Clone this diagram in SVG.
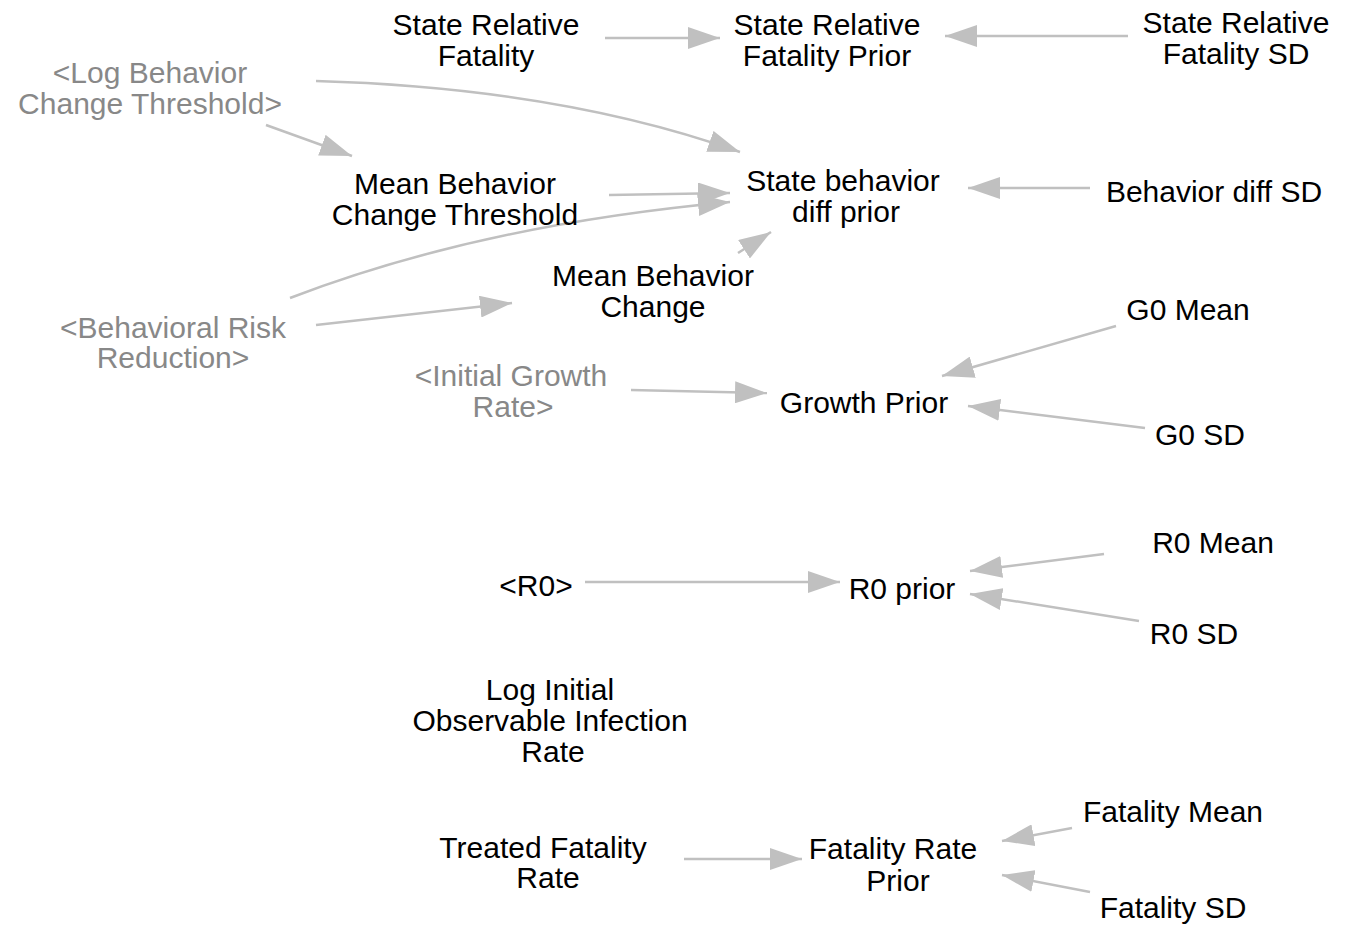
<svg xmlns="http://www.w3.org/2000/svg" width="1352" height="926" viewBox="0 0 1352 926">
  <style>
    .lbl { font-family: "Liberation Sans", Arial, sans-serif; font-size: 30px; fill: #000; text-anchor: middle; }
    .shadow { fill: #888888; }
    .link { fill: none; stroke: #c0c0c0; stroke-width: 2.5; marker-end: url(#head); }
  </style>
  <defs>
    <marker id="head" viewBox="0 0 32 22" refX="32" refY="11" markerWidth="32" markerHeight="22" markerUnits="userSpaceOnUse" orient="auto">
      <path d="M0,0 L32,11 L0,22 Z" fill="#c0c0c0"/>
    </marker>
  </defs>
  <rect width="1352" height="926" fill="#ffffff"/>

  <g id="connectors">
    <line class="link" x1="605" y1="38" x2="720" y2="38"/>
    <line class="link" x1="1128" y1="36" x2="945" y2="36"/>
    <path class="link" d="M316,81 Q560,88 740,152"/>
    <line class="link" x1="266" y1="125" x2="352" y2="156"/>
    <line class="link" x1="609" y1="195" x2="730" y2="193"/>
    <path class="link" d="M290,298 Q480,225 730,202"/>
    <line class="link" x1="1090" y1="188" x2="968" y2="188"/>
    <line class="link" x1="738" y1="253" x2="771" y2="232"/>
    <line class="link" x1="316" y1="325" x2="512" y2="303"/>
    <line class="link" x1="1116" y1="326" x2="942" y2="376"/>
    <line class="link" x1="631" y1="390" x2="767" y2="393"/>
    <line class="link" x1="1145" y1="428" x2="968" y2="406"/>
    <line class="link" x1="585" y1="582" x2="840" y2="582"/>
    <line class="link" x1="1104" y1="554" x2="970" y2="571"/>
    <line class="link" x1="1139" y1="621" x2="970" y2="594"/>
    <line class="link" x1="684" y1="859" x2="802" y2="859"/>
    <line class="link" x1="1072" y1="828" x2="1002" y2="841"/>
    <line class="link" x1="1090" y1="892" x2="1002" y2="875"/>
  </g>

  <g id="state-relative-fatality"><text class="lbl" x="486" y="35">State Relative</text><text class="lbl" x="486" y="66">Fatality</text></g>
  <g id="state-relative-fatality-prior"><text class="lbl" x="827" y="35">State Relative</text><text class="lbl" x="827" y="66">Fatality Prior</text></g>
  <g id="state-relative-fatality-sd"><text class="lbl" x="1236" y="33">State Relative</text><text class="lbl" x="1236" y="64">Fatality SD</text></g>
  <g id="log-behavior-change-threshold"><text class="lbl shadow" x="150" y="83">&lt;Log Behavior</text><text class="lbl shadow" x="150" y="114">Change Threshold&gt;</text></g>
  <g id="mean-behavior-change-threshold"><text class="lbl" x="455" y="194">Mean Behavior</text><text class="lbl" x="455" y="225">Change Threshold</text></g>
  <g id="state-behavior-diff-prior"><text class="lbl" x="843" y="191">State behavior</text><text class="lbl" x="846" y="222">diff prior</text></g>
  <g id="behavior-diff-sd"><text class="lbl" x="1214" y="202">Behavior diff SD</text></g>
  <g id="mean-behavior-change"><text class="lbl" x="653" y="286">Mean Behavior</text><text class="lbl" x="653" y="317">Change</text></g>
  <g id="behavioral-risk-reduction"><text class="lbl shadow" x="173" y="338">&lt;Behavioral Risk</text><text class="lbl shadow" x="173" y="368">Reduction&gt;</text></g>
  <g id="g0-mean"><text class="lbl" x="1188" y="320">G0 Mean</text></g>
  <g id="initial-growth-rate"><text class="lbl shadow" x="511" y="386">&lt;Initial Growth</text><text class="lbl shadow" x="513" y="417">Rate&gt;</text></g>
  <g id="growth-prior"><text class="lbl" x="864" y="413">Growth Prior</text></g>
  <g id="g0-sd"><text class="lbl" x="1200" y="445">G0 SD</text></g>
  <g id="r0-mean"><text class="lbl" x="1213" y="553">R0 Mean</text></g>
  <g id="r0"><text class="lbl" x="536" y="596">&lt;R0&gt;</text></g>
  <g id="r0-prior"><text class="lbl" x="902" y="599">R0 prior</text></g>
  <g id="r0-sd"><text class="lbl" x="1194" y="644">R0 SD</text></g>
  <g id="log-initial-observable-infection-rate"><text class="lbl" x="550" y="700">Log Initial</text><text class="lbl" x="550" y="731">Observable Infection</text><text class="lbl" x="553" y="762">Rate</text></g>
  <g id="treated-fatality-rate"><text class="lbl" x="543" y="858">Treated Fatality</text><text class="lbl" x="548" y="888">Rate</text></g>
  <g id="fatality-rate-prior"><text class="lbl" x="893" y="859">Fatality Rate</text><text class="lbl" x="898" y="891">Prior</text></g>
  <g id="fatality-mean"><text class="lbl" x="1173" y="822">Fatality Mean</text></g>
  <g id="fatality-sd"><text class="lbl" x="1173" y="918">Fatality SD</text></g>
</svg>
